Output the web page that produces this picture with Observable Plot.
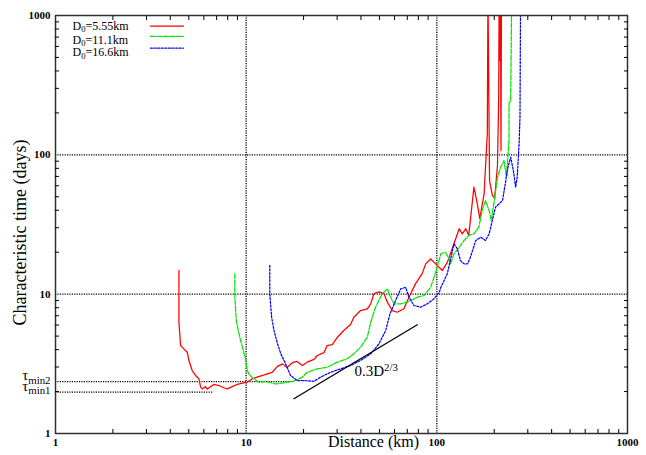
<!DOCTYPE html>
<html>
<head>
<meta charset="utf-8">
<script src="https://cdn.jsdelivr.net/npm/d3@7"></script>
<script src="https://cdn.jsdelivr.net/npm/@observablehq/plot@0.6"></script>
<style>
html,body{margin:0;padding:0;background:#fff;}
#chart svg{display:block;}
#chart svg, #chart svg text, #chart svg tspan{font-family:'Liberation Serif','Times New Roman',serif !important;}
</style>
</head>
<body>
<div id="chart"></div>
<script>
// ---------------- data ----------------
const seriesNames = ["D_{0}=5.55km", "D_{0}=11.1km", "D_{0}=16.6km"];
const seriesColors = ["#ff0000", "#00e600", "#0000ff"];
const seriesDash = [null, "5,1.5", "2,1.6"];

// [distance km, characteristic time days]
const curve555 = [[4.44,14.8],[4.44,6.29],[4.53,4.28],[4.71,4.05],[4.91,3.83],[5.01,3.34],[5.21,2.83],[5.43,2.61],[5.65,2.47],[5.77,2.15],[5.89,2.09],[6.12,2.17],[6.25,2.08],[6.51,2.17],[6.77,2.25],[7.19,2.21],[7.64,2.13],[7.96,2.09],[8.45,2.17],[8.98,2.25],[9.54,2.30],[10.1,2.33],[10.8,2.47],[11.4,2.54],[12.2,2.61],[12.9,2.68],[13.7,2.75],[14.6,3.03],[15.5,3.16],[16.4,2.98],[17.5,3.23],[18.5,3.29],[19.7,3.08],[20.9,3.25],[22.7,3.40],[23.6,3.63],[25.6,3.81],[26.6,4.28],[28.3,4.35],[30.1,4.91],[32.5,5.49],[35.3,6.06],[36.7,6.83],[39.8,7.63],[43.2,7.85],[45.0,8.53],[46.8,10.1],[49.7,10.4],[52.8,10.1],[55.0,8.76],[58.4,7.63],[62.0,7.42],[67.2,7.85],[71.4,9.51],[77.4,11.9],[83.9,14.1],[87.4,16.5],[92.8,17.9],[98.6,16.5],[107,14.8],[113.5,16.9],[123,23.0],[131,29.5],[136,27.1],[142,29.5],[147,26.4],[156.5,58.6],[163,44.5],[168,34.8],[177,52.5],[180,81.5],[184,142],[185.4,1500],[189,65.4],[195.5,51.1],[201,48.6],[208,83.8],[211,245],[212.3,1500],[214,475],[215.6,1500],[217,107],[218.3,1500]];
const curve111 = [[8.72,14.0],[8.72,9.78],[8.87,6.47],[9.09,5.49],[9.35,4.65],[9.61,4.05],[9.93,3.44],[10.05,2.99],[10.3,2.68],[10.8,2.51],[11.7,2.33],[12.6,2.37],[14.3,2.27],[16.1,2.32],[18.2,2.40],[19.7,2.54],[20.9,2.75],[23.6,2.91],[26.6,2.99],[30.1,3.25],[33.9,3.44],[36.7,3.73],[39.8,4.16],[43.2,4.91],[45.0,6.29],[47.7,8.06],[51.8,10.1],[55.0,10.9],[57.2,9.51],[59.6,8.53],[64.6,8.53],[70.0,8.76],[79.0,9.51],[85.6,9.78],[92.8,11.2],[98.6,14.3],[105,19.5],[111,20.0],[116,17.9],[118,16.5],[123,19.5],[131,21.7],[139,24.3],[147,26.4],[156.5,27.1],[166,30.3],[173,39.9],[180,47.0],[188,39.9],[193,33.8],[199,44.5],[208,69.1],[216,81.5],[225,91.1],[232,69.1],[239,127],[239,234],[244,245],[247,1500]];
const curve166 = [[13.3,16.1],[13.3,10.1],[13.6,6.83],[14.0,5.49],[14.6,4.40],[15.2,3.73],[16.1,3.16],[17.1,2.61],[18.5,2.40],[20.1,2.40],[22.7,2.37],[24.6,2.54],[27.7,2.75],[31.3,2.91],[35.3,3.08],[39.8,3.34],[45.0,3.73],[49.7,4.40],[53.9,5.49],[56.8,7.23],[60.8,9.01],[64.6,10.9],[68.6,11.2],[71.4,9.51],[75.9,8.29],[82.2,8.06],[89.2,8.53],[96.6,9.26],[103,10.3],[105,11.2],[113.5,14.0],[123,23.0],[128,21.2],[133,17.4],[139,16.5],[145,16.5],[150,18.4],[160,24.3],[170,25.6],[180,24.3],[188,27.1],[195.5,33.8],[203,42.1],[212,44.5],[221,47.0],[230,65.4],[236,81.5],[244,96.2],[252,77.2],[259,58.6],[264,69.1],[270,120],[273,186],[275,1500]];
const curves = [curve555, curve111, curve166];

const xDomain = [1, 1000];
const yDomain = [1, 1000];
const decadeTicks = [1, 10, 100, 1000];
const decadeLabels = ["1", "10", "100", "1000"];
const minorTicks = [2,3,4,5,6,7,8,9,20,30,40,50,60,70,80,90,200,300,400,500,600,700,800,900];
const gridX = [10, 100];
const gridY = [10, 100];

const tauLabels = ["τ_{min2}", "τ_{min1}"];
const tauValues = [2.36, 1.98];
const tauEnds = [17.8, 6.72];

const slopeLine = [[17.8, 1.775], [79.0, 6.03]];
const slopeLabel = "0.3D^{2/3}";
const slopeLabelAt = [37.0, 2.79];

const legendTextX = 1.228;
const legendTextY = [844, 669, 543];
const legendLineX = [3.15, 4.69];
const legendLineY = [838, 707, 583];

const xTitle = "Distance (km)";
const yTitle = "Characteristic time (days)";

// ---------------- chart ----------------
const serif = "'Liberation Serif','Times New Roman',serif";
const dotted = {stroke: "#000", strokeWidth: 1.3, strokeDasharray: "1.2,1.2"};

const marks = [
  Plot.ruleX(gridX, {x: d => d, ...dotted}),
  Plot.ruleY(gridY, {y: d => d, ...dotted}),
  Plot.ruleY(tauValues, {y: d => d, x1: () => xDomain[0], x2: (d, i) => tauEnds[i], ...dotted}),
  ...curves.map((c, i) => Plot.line(c, {
    x: d => d[0], y: d => d[1], stroke: seriesColors[i], strokeWidth: 1.25,
    strokeDasharray: seriesDash[i] || undefined, clip: true
  })),
  Plot.line(slopeLine, {x: d => d[0], y: d => d[1], stroke: "#000", strokeWidth: 1.3}),
  Plot.text([slopeLabel], {x: () => slopeLabelAt[0], y: () => slopeLabelAt[1], text: d => d, textAnchor: "start", fontSize: 15}),
  ...seriesNames.map((n, i) => Plot.line([[legendLineX[0], legendLineY[i]], [legendLineX[1], legendLineY[i]]], {
    x: d => d[0], y: d => d[1], stroke: seriesColors[i], strokeWidth: 1.25,
    strokeDasharray: seriesDash[i] || undefined
  })),
  Plot.text(seriesNames, {x: () => legendTextX, y: (d, i) => legendTextY[i], text: d => d, textAnchor: "start", fontSize: 12}),
  Plot.text(tauLabels, {x: () => xDomain[0], y: (d, i) => tauValues[i], text: d => d, textAnchor: "end", dx: -5, dy: -6, fontSize: 15}),
  Plot.frame({stroke: "#303030", strokeWidth: 1.5}),
  Plot.axisX({ticks: minorTicks, anchor: "bottom", tickSize: -4, tickFormat: () => "", label: null}),
  Plot.axisX({ticks: minorTicks, anchor: "top", tickSize: -4, tickFormat: () => "", label: null}),
  Plot.axisY({ticks: minorTicks, anchor: "left", tickSize: -4, tickFormat: () => "", label: null}),
  Plot.axisY({ticks: minorTicks, anchor: "right", tickSize: -4, tickFormat: () => "", label: null}),
  Plot.axisX({ticks: decadeTicks, anchor: "bottom", tickSize: 0, tickPadding: 5, fontWeight: "bold", fontSize: 11,
    tickFormat: d => decadeLabels[decadeTicks.indexOf(d)], label: null}),
  Plot.axisY({ticks: decadeTicks, anchor: "left", tickSize: 0, tickPadding: 5, fontWeight: "bold", fontSize: 11,
    tickFormat: d => decadeLabels[decadeTicks.indexOf(d)], label: null}),
  Plot.text([xTitle], {frameAnchor: "bottom", text: d => d, textAnchor: "middle", lineAnchor: "middle", dx: 32, dy: 8, fontSize: 16}),
  Plot.text([yTitle], {frameAnchor: "left", text: d => d, textAnchor: "middle", lineAnchor: "middle", rotate: -90, dx: -35, dy: 8, fontSize: 18})
];

const chart = Plot.plot({
  width: 646, height: 455,
  marginLeft: 55, marginRight: 19, marginTop: 15, marginBottom: 22,
  style: {fontFamily: serif, fontSize: "11px", color: "#000", background: "#fff"},
  x: {type: "log", domain: xDomain},
  y: {type: "log", domain: yDomain},
  marks
});
document.getElementById("chart").appendChild(chart);

// rich text: _{sub} and ^{sup}
d3.select(chart).selectAll("text").each(function () {
  const t = this.textContent;
  if (!/[_^]\{/.test(t)) return;
  const fs = parseFloat(getComputedStyle(this).fontSize) || 12;
  const el = d3.select(this);
  el.text(null);
  const re = /([_^])\{([^}]*)\}|([^_^]+)/g;
  let m, cur = 0;
  while ((m = re.exec(t))) {
    const kind = m[1] === "_" ? "sub" : m[1] === "^" ? "sup" : "";
    const target = kind === "sub" ? 0.22 * fs : kind === "sup" ? -0.38 * fs : 0;
    const ts = el.append("tspan").text(kind ? m[2] : m[3]);
    if (target - cur) ts.attr("dy", target - cur);
    if (kind) ts.attr("font-size", 0.72 * fs);
    cur = target;
  }
});
</script>
</body>
</html>
